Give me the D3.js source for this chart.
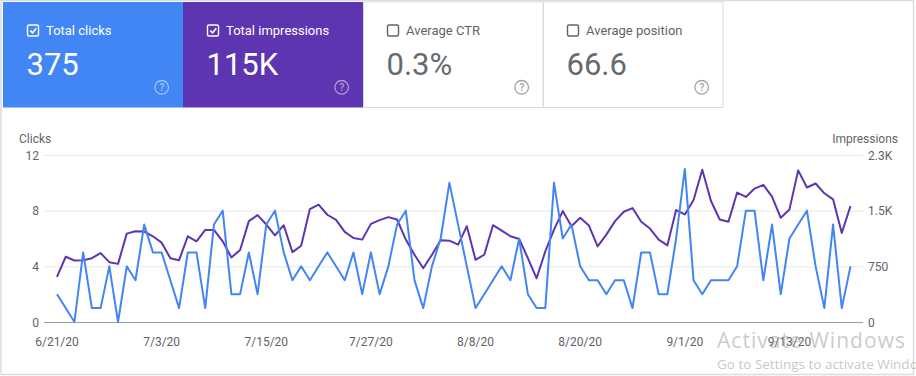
<!DOCTYPE html>
<html>
<head>
<meta charset="utf-8">
<script src="https://cdn.jsdelivr.net/npm/d3@7"></script>
<style>
  html, body { margin: 0; padding: 0; background: #fff; }
  svg { display: block; font-family: Roboto, "Noto Sans", Arial, sans-serif; }
</style>
</head>
<body>
<svg id="chart" width="916" height="376"></svg>
<script>
// ---- Data ----
const startDate = "2020-06-21";
const clicks = [2,1,0,5,1,1,4,0,4,3,7,5,5,3,1,5,5,1,7,8,
  2,2,5,2,7,8,5,3,4,3,4,5,4,3,5,2,5,2,
  4,7,8,3,1,4,6,10,7,4,1,2,3,4,3,6,2,1,
  1,10,6,7,4,3,3,2,3,3,1,5,5,2,2,6,11,
  3,2,3,3,3,4,8,8,3,7,2,6,7,8,4,1,7,1,4];
const impressions = [607,879,829,833,860,928,806,783,1191,1223,1218,1155,1069,860,833,1155,1087,1241,1241,
  1087,870,969,1359,1440,1313,1168,1304,942,1028,1522,1581,1445,1377,1214,1132,1110,1322,1372,
  1413,1381,1110,906,725,906,1100,1096,1042,1291,838,906,1304,1232,1155,1119,860,589,
  951,1245,1494,1291,1404,1300,1019,1177,1359,1486,1535,1350,1259,1110,1033,1508,1449,
  1645,2052,1630,1381,1350,1744,1685,1798,1848,1689,1404,1517,2043,1812,1866,1734,1653,1200,1562];
const clickTicks = [0, 4, 8, 12];
const impTicks = [0, 750, 1500, 2250];
const impTickLabels = ["0", "750", "1.5K", "2.3K"];
const xTickDates = ["2020-06-21","2020-07-03","2020-07-15","2020-07-27","2020-08-08","2020-08-20","2020-09-01","2020-09-13"];
const cardLabels = ["Total clicks", "Total impressions", "Average CTR", "Average position"];
const cardValues = ["375", "115K", "0.3%", "66.6"];
const cardChecked = [true, true, false, false];
const cardColors = ["#4285f4", "#5e35b1", "#ffffff", "#ffffff"];

const parse = d3.utcParse("%Y-%m-%d");
const start = parse(startDate);
const dates = clicks.map((_, i) => d3.utcDay.offset(start, i));

const svg = d3.select("#chart");

// outer frame
svg.append("rect").attr("x", 1).attr("y", 0.5).attr("width", 912.5).attr("height", 374)
  .attr("fill", "#fff").attr("stroke", "#dadce0").attr("stroke-width", 1.5);

// ---- Cards ----
const cardW = 180, cardX0 = 3, cardY = 2, cardH = 105.5;
cardLabels.forEach((lab, i) => {
  const g = svg.append("g").attr("transform", `translate(${cardX0 + i * cardW},${cardY})`);
  const colored = cardColors[i] !== "#ffffff";
  g.append("rect").attr("x", colored ? 0 : 0.5).attr("y", 0)
    .attr("width", colored ? cardW : cardW - 0.5).attr("height", cardH)
    .attr("fill", cardColors[i])
    .attr("stroke", colored ? "none" : "#dadce0").attr("stroke-width", 1);
  const fg = colored ? "#ffffff" : "#5f6368";
  // checkbox
  g.append("rect").attr("x", 24.5).attr("y", 23).attr("width", 11).attr("height", 11).attr("rx", 1.5)
    .attr("fill", "none").attr("stroke", fg).attr("stroke-width", 1.4);
  if (cardChecked[i]) {
    g.append("path").attr("d", "M27.3,28.6 L29.6,30.9 L33.2,26.3")
      .attr("fill", "none").attr("stroke", fg).attr("stroke-width", 1.6);
  }
  g.append("text").attr("x", 43).attr("y", 33).attr("font-size", 13).attr("fill", fg).text(lab);
  g.append("text").attr("x", 23.5).attr("y", 73).attr("font-size", 31)
    .attr("fill", colored ? "#ffffff" : "#666a6e").text(cardValues[i]);
  // help icon
  const hc = colored ? "rgba(255,255,255,0.5)" : "#a0a4a8";
  g.append("circle").attr("cx", 158.7).attr("cy", 85.3).attr("r", 6.8)
    .attr("fill", "none").attr("stroke", hc).attr("stroke-width", 1.3);
  g.append("text").attr("x", 158.7).attr("y", 89.3).attr("text-anchor", "middle")
    .attr("font-size", 10.5).attr("font-weight", 500).attr("fill", hc).text("?");
});

// ---- Chart ----
const x = d3.scaleUtc().domain([dates[0], dates[dates.length - 1]]).range([57, 850.5]);
const yL = d3.scaleLinear().domain([0, 12]).range([322, 155]);
const yR = d3.scaleLinear().domain([0, 2250]).range([322, 155]);
const gridX0 = 44, gridX1 = 863;

// gridlines
svg.append("g").selectAll("line").data(clickTicks).join("line")
  .attr("x1", gridX0).attr("x2", gridX1)
  .attr("y1", d => yL(d) + 0.5).attr("y2", d => yL(d) + 0.5)
  .attr("stroke", d => d === 0 ? "#9e9e9e" : "#e8e8e8").attr("stroke-width", 1);

// left axis labels
svg.append("g").selectAll("text").data(clickTicks).join("text")
  .attr("x", 39).attr("y", d => yL(d) + 4.5).attr("text-anchor", "end")
  .attr("font-size", 12).attr("fill", "#5f6368").text(d => d);
// right axis labels
svg.append("g").selectAll("text").data(impTicks).join("text")
  .attr("x", 868).attr("y", d => yR(d) + 4.5).attr("text-anchor", "start")
  .attr("font-size", 12).attr("fill", "#5f6368").text((d, i) => impTickLabels[i]);

svg.append("text").attr("x", 19).attr("y", 143).attr("font-size", 12).attr("fill", "#5f6368").text("Clicks");
svg.append("text").attr("x", 898).attr("y", 143).attr("text-anchor", "end").attr("font-size", 12).attr("fill", "#5f6368").text("Impressions");

// x axis labels
const fmt = d => `${d.getUTCMonth() + 1}/${d.getUTCDate()}/${String(d.getUTCFullYear()).slice(2)}`;
svg.append("g").selectAll("text").data(xTickDates.map(parse)).join("text")
  .attr("x", d => x(d)).attr("y", 346).attr("text-anchor", "middle")
  .attr("font-size", 12).attr("fill", "#5f6368").text(fmt);

// lines
const lineClicks = d3.line().x((d, i) => x(dates[i])).y(d => yL(d));
const lineImp = d3.line().x((d, i) => x(dates[i])).y(d => yR(d));
svg.append("path").datum(impressions).attr("d", lineImp)
  .attr("fill", "none").attr("stroke", "#5e35b1").attr("stroke-width", 2).attr("stroke-linejoin", "round");
svg.append("path").datum(clicks).attr("d", lineClicks)
  .attr("fill", "none").attr("stroke", "#4285f4").attr("stroke-width", 2).attr("stroke-linejoin", "round");

// Windows watermark overlay
svg.append("text").attr("x", 717).attr("y", 347.5).attr("font-size", 21)
  .attr("font-family", "'Open Sans', 'Noto Sans', sans-serif")
  .attr("textLength", 188).attr("lengthAdjust", "spacing")
  .attr("fill", "rgba(150,150,150,0.5)").text("Activate Windows");
svg.append("text").attr("x", 717).attr("y", 369).attr("font-size", 13.5)
  .attr("font-family", "'Open Sans', 'Noto Sans', sans-serif")
  .attr("fill", "rgba(150,150,150,0.55)").text("Go to Settings to activate Windows.");
</script>
</body>
</html>
